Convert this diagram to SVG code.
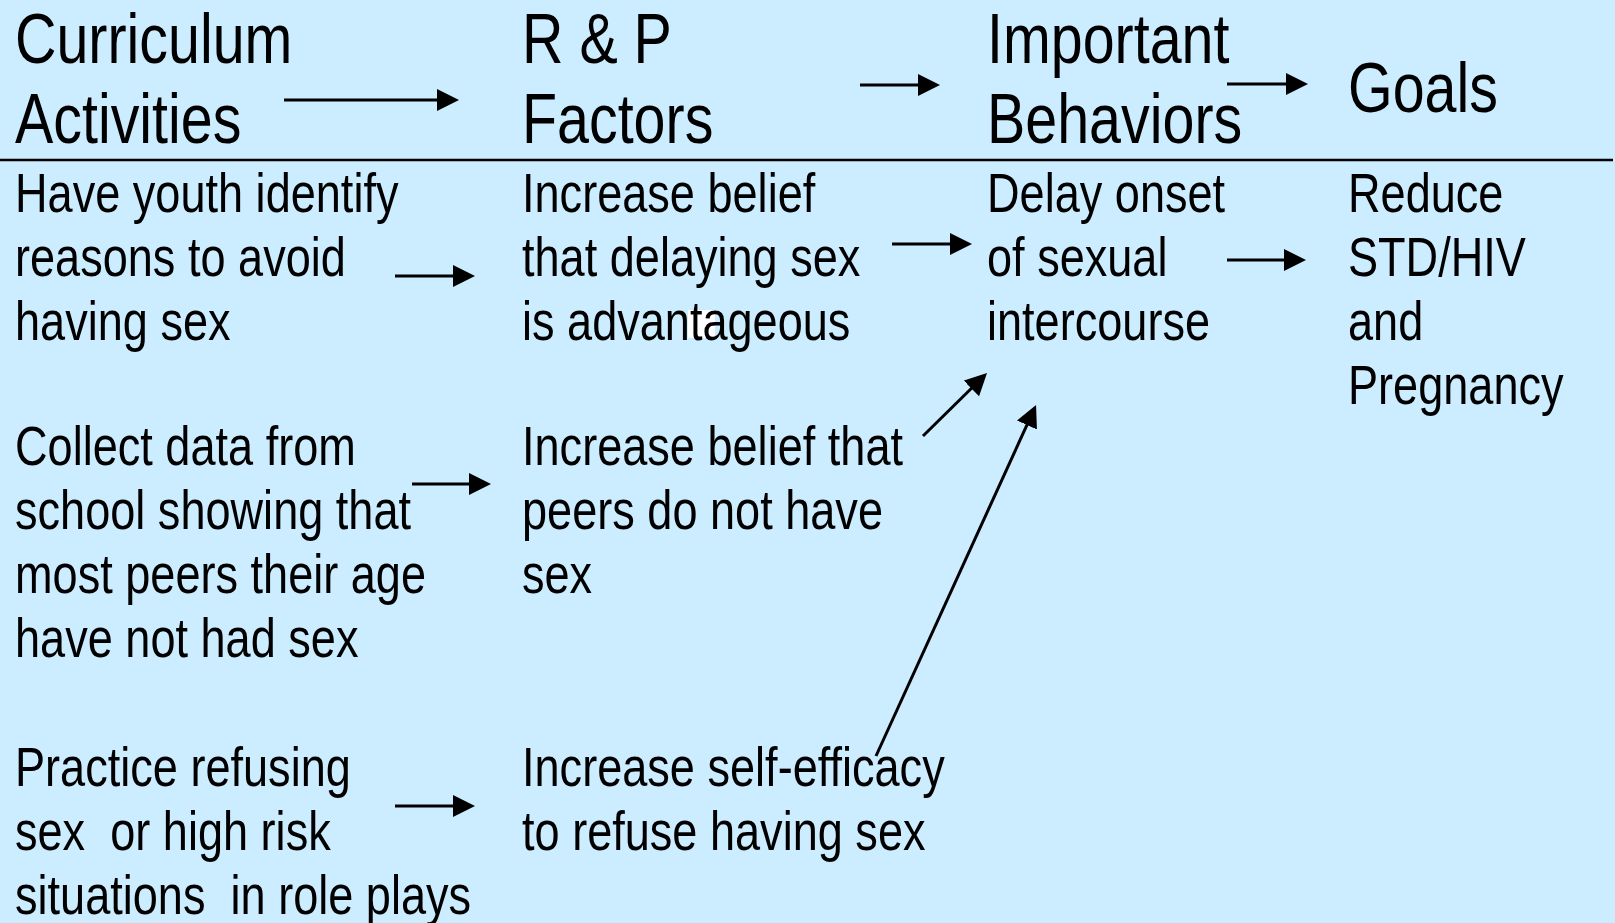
<svg xmlns="http://www.w3.org/2000/svg" width="1615" height="923" viewBox="0 0 1615 923">
<style>
text{font-family:"Liberation Sans",Arial,sans-serif;fill:#000}
.h{font-size:70px}
.b{font-size:55px}
.c{stroke:#000;stroke-width:3;fill:none}
</style>
<defs>
<marker id="ah" markerUnits="userSpaceOnUse" markerWidth="24" markerHeight="24" refX="12" refY="11" orient="auto">
<path d="M0,0 L22,11 L0,22 Z" fill="#000"/>
</marker>
</defs>
<rect x="0" y="0" width="1615" height="923" fill="#CCECFF"/>
<rect x="688" y="310" width="27" height="28" fill="#FFFFFF"/>
<g id="header-curriculum" transform="translate(15,0) scale(0.82,1)"><text class="h" x="0" y="63">Curriculum</text><text class="h" x="0" y="143">Activities</text></g>
<g id="header-rp" transform="translate(522,0) scale(0.82,1)"><text class="h" x="0" y="63">R &amp; P</text><text class="h" x="0" y="143">Factors</text></g>
<g id="header-behaviors" transform="translate(987,0) scale(0.82,1)"><text class="h" x="0" y="63">Important</text><text class="h" x="0" y="143">Behaviors</text></g>
<g id="header-goals" transform="translate(1348,0) scale(0.82,1)"><text class="h" x="0" y="112">Goals</text></g>
<line x1="0" y1="160" x2="1613" y2="160" stroke="#000" stroke-width="2.5"/>
<g id="act1" transform="translate(15,0) scale(0.82,1)"><text class="b" x="0" y="212">Have youth identify</text><text class="b" x="0" y="276">reasons to avoid</text><text class="b" x="0" y="340">having sex</text></g>
<g id="rp1" transform="translate(522,0) scale(0.82,1)"><text class="b" x="0" y="212">Increase belief</text><text class="b" x="0" y="276">that delaying sex</text><text class="b" x="0" y="340">is advantageous</text></g>
<g id="beh1" transform="translate(987,0) scale(0.82,1)"><text class="b" x="0" y="212">Delay onset</text><text class="b" x="0" y="276">of sexual</text><text class="b" x="0" y="340">intercourse</text></g>
<g id="goal1" transform="translate(1348,0) scale(0.82,1)"><text class="b" x="0" y="212">Reduce</text><text class="b" x="0" y="276">STD/HIV</text><text class="b" x="0" y="340">and</text><text class="b" x="0" y="404">Pregnancy</text></g>
<g id="act2" transform="translate(15,0) scale(0.82,1)"><text class="b" x="0" y="465">Collect data from</text><text class="b" x="0" y="529">school showing that</text><text class="b" x="0" y="593">most peers their age</text><text class="b" x="0" y="657">have not had sex</text></g>
<g id="rp2" transform="translate(522,0) scale(0.82,1)"><text class="b" x="0" y="465">Increase belief that</text><text class="b" x="0" y="529">peers do not have</text><text class="b" x="0" y="593">sex</text></g>
<g id="act3" transform="translate(15,0) scale(0.82,1)"><text class="b" x="0" y="786">Practice refusing</text><text class="b" x="0" y="850" xml:space="preserve">sex  or high risk</text><text class="b" x="0" y="914" xml:space="preserve">situations  in role plays</text></g>
<g id="rp3" transform="translate(522,0) scale(0.82,1)"><text class="b" x="0" y="786">Increase self-efficacy</text><text class="b" x="0" y="850">to refuse having sex</text></g>
<g id="connectors">
<line class="c" x1="284" y1="100" x2="449" y2="100" marker-end="url(#ah)"/>
<line class="c" x1="860" y1="85" x2="930" y2="85" marker-end="url(#ah)"/>
<line class="c" x1="1227" y1="84" x2="1298" y2="84" marker-end="url(#ah)"/>
<line class="c" x1="395" y1="276" x2="465" y2="276" marker-end="url(#ah)"/>
<line class="c" x1="892" y1="244" x2="962" y2="244" marker-end="url(#ah)"/>
<line class="c" x1="1227" y1="260" x2="1296" y2="260" marker-end="url(#ah)"/>
<line class="c" x1="412" y1="484" x2="481" y2="484" marker-end="url(#ah)"/>
<line class="c" x1="395" y1="806" x2="465" y2="806" marker-end="url(#ah)"/>
<line class="c" x1="923" y1="436" x2="979.9" y2="380" marker-end="url(#ah)"/>
<line class="c" x1="876" y1="756" x2="1031.9" y2="414.1" marker-end="url(#ah)"/>
</g>
</svg>
